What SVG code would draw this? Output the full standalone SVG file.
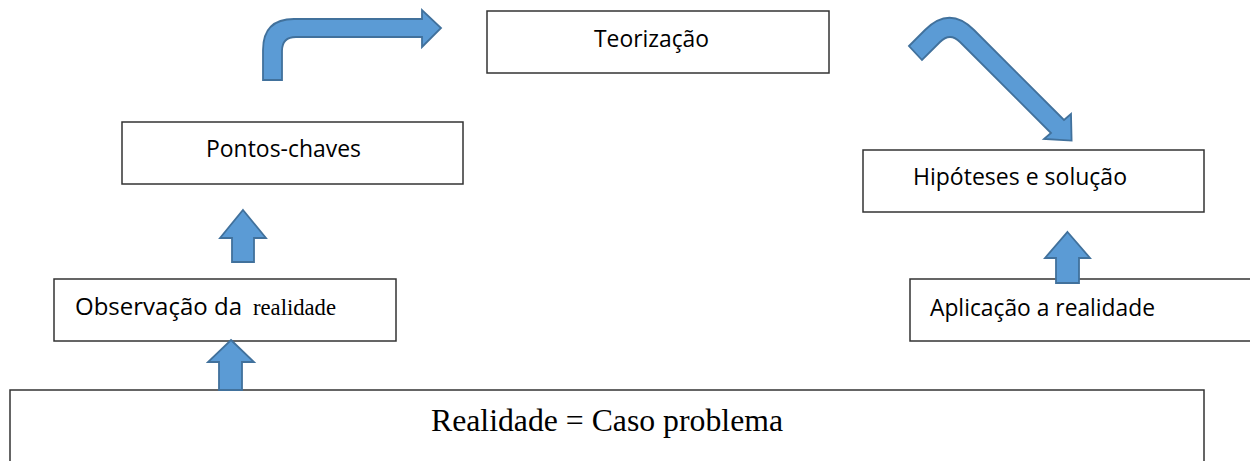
<svg xmlns="http://www.w3.org/2000/svg" width="1250" height="461" viewBox="0 0 1250 461">
<style>
.box{fill:#fff;stroke:#333;stroke-width:1.5}
.lbl{font-family:"Open Sans","Liberation Sans",sans-serif;font-size:23.5px;fill:#000}
.ser{font-family:"Liberation Serif","Times New Roman",serif;fill:#000}
.arr{fill:#5B9BD5;stroke:#41719C;stroke-width:1.8;stroke-linejoin:miter}
</style>
<rect width="1250" height="461" fill="#fff"/>
<g id="teorizacao">
<rect class="box" x="487" y="11" width="342" height="62"/>
<text class="lbl" x="594" y="47" textLength="115" lengthAdjust="spacingAndGlyphs">Teorização</text>
</g>
<g id="pontos-chaves">
<rect class="box" x="122" y="122" width="341" height="62"/>
<text class="lbl" x="206" y="157" textLength="155" lengthAdjust="spacingAndGlyphs">Pontos-chaves</text>
</g>
<g id="hipoteses">
<rect class="box" x="863" y="150" width="341" height="62"/>
<text class="lbl" x="913" y="185" textLength="214" lengthAdjust="spacingAndGlyphs">Hipóteses e solução</text>
</g>
<g id="observacao">
<rect class="box" x="54" y="279" width="342" height="62"/>
<text class="lbl" x="75" y="315" textLength="167" lengthAdjust="spacingAndGlyphs">Observação da</text>
<text class="ser" x="253" y="315" font-size="24" textLength="83" lengthAdjust="spacingAndGlyphs">realidade</text>
</g>
<g id="aplicacao">
<rect class="box" x="910" y="279" width="360" height="62"/>
<text class="lbl" x="930" y="316" textLength="225" lengthAdjust="spacingAndGlyphs">Aplicação a realidade</text>
</g>
<g id="realidade">
<rect class="box" x="10" y="390" width="1194" height="90"/>
<text class="ser" x="431" y="431" font-size="32" textLength="352" lengthAdjust="spacingAndGlyphs">Realidade = Caso problema</text>
</g>
<g id="connectors">
<path class="arr" d="M263,80 L263,50 Q263,19 294,19 L422,19 L422,10 L441,28 L422,47 L422,37 L296,37 Q282,37 282,51 L282,80 Z"/>
<path class="arr" d="M909,46 L925,30 Q949.5,5.5 974,30 L1064,120 L1071,114 L1071.6,140.6 L1044,139 L1051,133 L960,42 Q950,32 940,42 L922,60 Z"/>
<path class="arr" d="M243,210 L266,238 L254,238 L254,262 L232,262 L232,238 L220,238 Z"/>
<path class="arr" d="M231,340 L254,362 L242,362 L242,390 L219,390 L219,362 L208,362 Z"/>
<path class="arr" d="M1067.5,232 L1090,258 L1079,258 L1079,283 L1056,283 L1056,258 L1045,258 Z"/>
</g>
</svg>
